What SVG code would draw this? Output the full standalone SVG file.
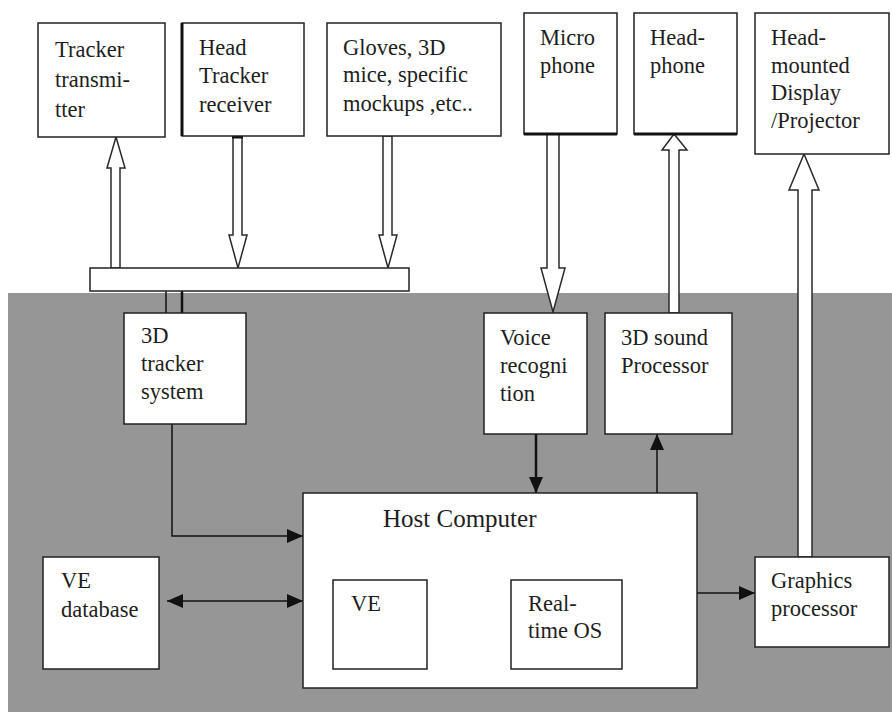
<svg xmlns="http://www.w3.org/2000/svg" width="892" height="713" viewBox="0 0 892 713" font-family="Liberation Serif, Times New Roman, serif">
<defs>
<style>
.box{fill:#fff;stroke:#222;stroke-width:1.5}
.t{font-size:22.5px;fill:#1e1e1e}
.big{font-size:25px}
.hollow{fill:#fff;stroke:#2a2a2a;stroke-width:1.5;stroke-linejoin:miter}
.ln{fill:none;stroke:#111;stroke-width:1.5}
.thick{stroke-width:2.5}
</style>
<marker id="ah" viewBox="0 0 16 14" refX="16" refY="7" markerWidth="16" markerHeight="14" markerUnits="userSpaceOnUse" orient="auto-start-reverse">
<path d="M0,0 L16,7 L0,14 z" fill="#111"/>
</marker>
</defs>
<rect x="0" y="0" width="892" height="713" fill="#fff"/>
<rect id="background" x="8" y="293" width="884" height="419" fill="#969696"/>

<g id="connectors">
<polygon class="hollow" points="111,268 111,168 107,168 116,137 125,168 120,168 120,268"/>
<polygon class="hollow" points="233,136 242,136 242,235 247,235 238,268 229,235 233,235"/>
<polygon class="hollow" points="383,136 392,136 392,235 397,235 388,268 379,235 383,235"/>
<polygon class="hollow" points="547,134 559,134 559,268 565,268 553,312 541,268 547,268"/>
<polygon class="hollow" points="669,313 669,150 662,150 674,134 687,150 679,150 679,313"/>
<polygon class="hollow" points="798,557 798,190 789,190 804,154 819,190 812,190 812,557"/>
<line x1="232" y1="137" x2="243" y2="137" stroke="#111" stroke-width="3"/>
<line class="ln" x1="166" y1="291" x2="166" y2="313"/>
<line class="ln thick" x1="182" y1="291" x2="182" y2="313"/>
<path class="ln" d="M172,424 V536 H303" marker-end="url(#ah)"/>
<line class="ln" x1="167" y1="601" x2="303" y2="601" marker-start="url(#ah)" marker-end="url(#ah)"/>
<line class="ln thick" x1="536" y1="434" x2="536" y2="493" marker-end="url(#ah)"/>
<line class="ln" x1="657" y1="493" x2="657" y2="434" marker-end="url(#ah)"/>
<line class="ln" x1="697" y1="593" x2="755" y2="593" marker-end="url(#ah)"/>
</g>

<g id="bar">
<rect class="box" x="90" y="268" width="319" height="23"/>
</g>

<g id="tracker-transmitter">
<rect class="box" x="38" y="23" width="127" height="114"/>
<text class="t" x="55" y="57">Tracker</text>
<text class="t" x="55" y="87">transmi-</text>
<text class="t" x="55" y="117">tter</text>
</g>

<g id="head-tracker-receiver">
<rect class="box" x="182" y="23" width="122" height="113"/>
<line x1="182" y1="23" x2="182" y2="136" stroke="#111" stroke-width="3"/>
<text class="t" x="199" y="55">Head</text>
<text class="t" x="199" y="83">Tracker</text>
<text class="t" x="199" y="112">receiver</text>
</g>

<g id="gloves">
<rect class="box" x="327" y="23" width="174" height="113"/>
<text class="t" x="343" y="55">Gloves, 3D</text>
<text class="t" x="343" y="82">mice, specific</text>
<text class="t" x="343" y="111">mockups ,etc..</text>
</g>

<g id="microphone">
<rect class="box" x="524" y="13" width="93" height="121"/>
<line x1="524" y1="134" x2="617" y2="134" stroke="#111" stroke-width="3"/>
<text class="t" x="540" y="45">Micro</text>
<text class="t" x="540" y="73">phone</text>
</g>

<g id="headphone">
<rect class="box" x="634" y="13" width="103" height="121"/>
<line x1="634" y1="134" x2="737" y2="134" stroke="#111" stroke-width="3"/>
<text class="t" x="650" y="45">Head-</text>
<text class="t" x="650" y="73">phone</text>
</g>

<g id="hmd">
<rect class="box" x="755" y="13" width="134" height="141"/>
<text class="t" x="771" y="45">Head-</text>
<text class="t" x="771" y="73">mounted</text>
<text class="t" x="771" y="100">Display</text>
<text class="t" x="771" y="128">/Projector</text>
</g>

<g id="tracker-system">
<rect class="box" x="124" y="313" width="122" height="111"/>
<text class="t" x="141" y="343">3D</text>
<text class="t" x="141" y="371">tracker</text>
<text class="t" x="141" y="399">system</text>
</g>

<g id="voice-recognition">
<rect class="box" x="484" y="313" width="103" height="121"/>
<text class="t" x="500" y="345">Voice</text>
<text class="t" x="500" y="373">recogni</text>
<text class="t" x="500" y="401">tion</text>
</g>

<g id="sound-processor">
<rect class="box" x="605" y="313" width="127" height="121"/>
<text class="t" x="621" y="345">3D sound</text>
<text class="t" x="621" y="373">Processor</text>
</g>

<g id="host-computer">
<rect class="box" x="303" y="493" width="394" height="195"/>
<text class="t big" x="383" y="527">Host Computer</text>
</g>

<g id="ve">
<rect class="box" x="333" y="580" width="94" height="89"/>
<text class="t" x="351" y="611">VE</text>
</g>

<g id="realtime-os">
<rect class="box" x="511" y="580" width="111" height="89"/>
<text class="t" x="528" y="611">Real-</text>
<text class="t" x="528" y="638">time OS</text>
</g>

<g id="ve-database">
<rect class="box" x="43" y="557" width="116" height="112"/>
<text class="t" x="61" y="588">VE</text>
<text class="t" x="61" y="617">database</text>
</g>

<g id="graphics-processor">
<rect class="box" x="755" y="557" width="134" height="90"/>
<text class="t" x="771" y="588">Graphics</text>
<text class="t" x="771" y="616">processor</text>
</g>
</svg>
